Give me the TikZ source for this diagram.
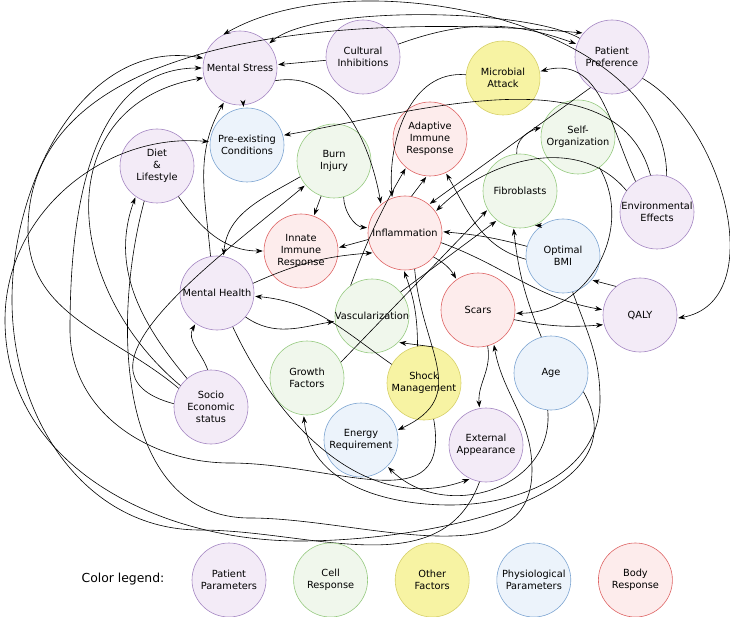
\documentclass[tikz,border=0pt]{standalone}
\usepackage{fontspec}
\setmainfont{DejaVu Sans}
\usetikzlibrary{arrows.meta,positioning}

\definecolor{pfill}{RGB}{243,235,247}
\definecolor{pline}{RGB}{165,135,195}
\definecolor{gfill}{RGB}{240,247,236}
\definecolor{gline}{RGB}{150,202,128}
\definecolor{yfill}{RGB}{247,243,163}
\definecolor{yline}{RGB}{214,208,105}
\definecolor{bfill}{RGB}{236,243,251}
\definecolor{bline}{RGB}{125,165,210}
\definecolor{rfill}{RGB}{253,236,236}
\definecolor{rline}{RGB}{222,100,100}

\newcommand{\nodefont}{\fontsize{9.8}{12.2}\selectfont}

\begin{document}
\begin{tikzpicture}[->, >={Stealth[length=7pt,width=5pt]}, shorten >=1pt, semithick,
                    x=1pt, y=1pt, node distance=27pt,
                    bubble/.style={circle, draw, minimum size=74pt, inner sep=0pt,
                                   align=center, font=\nodefont},
                    patient/.style={bubble, draw=pline, fill=pfill},
                    cell/.style={bubble, draw=gline, fill=gfill},
                    other/.style={bubble, draw=yline, fill=yfill},
                    physio/.style={bubble, draw=bline, fill=bfill},
                    body/.style={bubble, draw=rline, fill=rfill}]
  \useasboundingbox (0,0) rectangle (730,-617);

  % main diagram
  \node[patient] (stress)   at (240,-68)  {Mental Stress};
  \node[patient] (cult)     at (363,-57)  {Cultural\\Inhibitions};
  \node[patient] (pref)     at (612,-57)  {Patient\\Preference};
  \node[other]   (micro)    at (503,-78)  {Microbial\\Attack};
  \node[physio]  (preex)    at (247,-145) {Pre-existing\\Conditions};
  \node[body]    (adaptive) at (430,-139) {Adaptive\\Immune\\Response};
  \node[cell]    (selforg)  at (578,-137) {Self-\\Organization};
  \node[patient] (diet)     at (157,-166) {Diet\\\&\\Lifestyle};
  \node[cell]    (burn)     at (334,-161) {Burn\\Injury};
  \node[cell]    (fibro)    at (520,-191) {Fibroblasts};
  \node[patient, inner sep=-3.5pt] (env) at (657,-212) {Environmental\\Effects};
  \node[body]    (infl)     at (405,-233) {Inflammation};
  \node[body]    (innate)   at (301,-251) {Innate\\Immune\\Response};
  \node[physio]  (obmi)     at (563,-256) {Optimal\\BMI};
  \node[patient] (mh)       at (217,-293) {Mental Health};
  \node[cell, inner sep=-1pt] (vasc) at (372,-316) {Vascularization};
  \node[body]    (scars)    at (478,-310) {Scars};
  \node[patient] (qaly)     at (640,-315) {QALY};
  \node[cell]    (gf)       at (307,-378) {Growth\\Factors};
  \node[other]   (shock)    at (424,-383) {Shock\\Management};
  \node[physio]  (age)      at (551,-373) {Age};
  \node[patient] (socio)    at (211,-407) {Socio\\Economic\\status};
  \node[physio]  (energy)   at (361,-440) {Energy\\Requirement};
  \node[patient] (ea)       at (486,-445) {External\\Appearance};

  \path (cult) edge (stress)
        (cult) edge[bend left=20] (pref)
        (stress) edge (preex)
        (pref.150) edge[out=150,in=40,looseness=.5] (stress.40)
        (env.75) edge[out=90,in=30,looseness=.85] (stress.118)
        (pref.-35) edge[out=-30,in=10] (qaly.-5)
        (pref.-125) edge (infl.50)
        (env.125) edge[out=115,in=15,looseness=1.1] (micro.10)
        (env.100) edge[out=105,in=10,looseness=.9] (preex.15)
        (env.145) edge[out=130,in=45] (infl.35)
        (micro.175) edge[out=175,in=95] (infl.110)
        (stress.-20) edge[out=10,in=100] (infl.130)
        (burn) edge (innate)
        (burn.-75) edge[out=-90,in=175,looseness=.9] (infl.172)
        (infl.190) edge (innate.5)
        (infl.80) edge (adaptive.-95)
        (vasc.125) edge[bend left=5] (adaptive.-130)
        (obmi.165) edge[out=165,in=-5] (infl.2)
        (obmi.185) edge[out=165,in=-60] (adaptive.-65)
        (infl.-40) edge[bend left=15] (scars.125)
        (infl.-15) edge[out=-20,in=170] (qaly.172)
        (scars.-15) edge[bend right=8] (qaly.195)
        (qaly.130) edge (obmi.-40)
        (gf.25) edge (fibro.-150)
        (vasc.40) edge (fibro.-128)
        (age.105) edge[bend left=8] (fibro.-100)
        (obmi.125) edge (fibro.-68)
        (fibro.95) edge[out=95,in=195] (selforg.165)
        (selforg.-55) edge[out=-60,in=0,looseness=1.1] (scars.-5)
        (diet.-55) edge[out=-55,in=180] (innate.180)
        (burn.205) edge[out=210,in=85] (mh.80)
        (mh.-40) edge[out=-35,in=190] (vasc.188)
        (shock.150) edge[out=145,in=-5] (mh.-5)
        (shock.75) edge (vasc.-45)
        (shock.100) edge[bend right=10] (infl.-92)
        (infl.-75) edge[out=-85,in=25,looseness=1.3] (energy.15)
        (scars.-75) edge[out=-80,in=95] (ea.100)
        (socio.95) edge[out=110,in=-120] (mh.-125)
        (socio.130) edge[out=130,in=-110] (diet.-125)
        (mh.100) edge[out=95,in=-120] (stress.-115)
        (mh.15) edge[bend left=10] (infl.-148)
        (mh.-65) edge[out=-65,in=200] (ea.-115)
        (age.-95) edge[out=-85,in=-45,looseness=1.2] (energy.-45)
        (socio.145) edge[out=140,in=190,looseness=1.3] (stress.195)
        (socio.175) edge[out=165,in=-140,looseness=1.2] (burn.-140);

  % long loops round the outside
  \draw (socio.150) to[out=140,in=-90] (28,-230) to[out=90,in=175,looseness=.9] (pref.140);
  \draw (ea.-100) to[out=-110,in=0] (200,-530) to[out=180,in=-90] (12,-300)
        to[out=90,in=170] (stress.165);
  \draw (shock.-75) to[out=-80,in=0,looseness=1.3] (230,-463) to[out=180,in=-90] (70,-330)
        to[out=90,in=180] (stress.180);
  \draw (age.-30) to[out=-60,in=0] (300,-541) to[out=180,in=-90] (5,-320)
        to[out=90,in=175] (preex.175);
  \draw (diet.-110) to[out=-105,in=180] (250,-518) to[out=0,in=-90] (532,-470)
        to[out=90,in=-80] (scars.-65);
  \draw (obmi.-75) to[out=-70,in=90] (600,-400) to[out=-90,in=0] (450,-505)
        to[out=180,in=-85] (gf.-95);

  % colour legend
  \node[font=\fontsize{12.4}{14}\selectfont] (legend) at (123,-579) {Color legend:};
  \node[patient] (lpat) at (229,-580) {Patient\\Parameters};
  \node[cell] (lcell) [right=of lpat] {Cell\\Response};
  \node[other] (lother) [right=of lcell] {Other\\Factors};
  \node[physio] (lphys) [right=of lother] {Physiological\\Parameters};
  \node[body] (lbody) [right=of lphys] {Body\\Response};
\end{tikzpicture}
\end{document}
